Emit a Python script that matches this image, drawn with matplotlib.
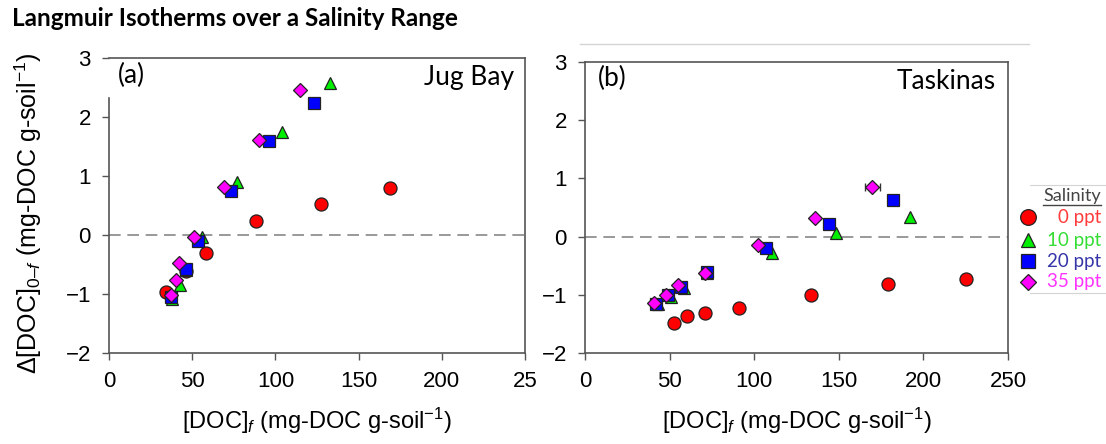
import matplotlib.pyplot as plt
from matplotlib.lines import Line2D

W, H = 1106, 444

# values, [DOC]_f (x) and delta[DOC] (y)
salinity = ["0 ppt", "10 ppt", "20 ppt", "35 ppt"]
colors = ["#ff0000", "#00ee00", "#0000ff", "#ff00ff"]
label_colors = ["#ff3b3b", "#33dd33", "#3535a8", "#ff33ff"]
markers = ["o", "^", "s", "D"]
marker_sizes = [9.4, 8.8, 8.0, 7.2]

jug_x = [
    [34.5, 46.1, 58.5, 88.2, 127.5, 168.8],
    [38.1, 42.5, 46.0, 55.7, 77.2, 103.9, 132.7],
    [37.5, 46.1, 53.5, 73.6, 96.0, 123.1],
    [37.1, 40.5, 42.1, 50.9, 69.0, 90.2, 114.9],
]
jug_y = [
    [-0.96, -0.61, -0.30, 0.23, 0.52, 0.80],
    [-1.08, -0.85, -0.60, -0.03, 0.90, 1.74, 2.58],
    [-1.05, -0.58, -0.11, 0.74, 1.60, 2.24],
    [-1.01, -0.76, -0.48, -0.04, 0.81, 1.61, 2.45],
]

tas_x = [
    [52.8, 60.0, 70.7, 91.3, 133.5, 178.9, 225.4],
    [43.3, 50.6, 58.5, 71.9, 110.6, 148.6, 191.9],
    [41.9, 48.8, 56.7, 71.9, 107.1, 144.3, 181.9],
    [40.7, 47.8, 54.9, 70.7, 102.0, 136.0, 169.7],
]
tas_y = [
    [-1.48, -1.37, -1.32, -1.22, -1.01, -0.81, -0.73],
    [-1.16, -1.04, -0.89, -0.62, -0.29, 0.07, 0.33],
    [-1.16, -1.01, -0.87, -0.61, -0.19, 0.21, 0.63],
    [-1.14, -1.00, -0.84, -0.63, -0.15, 0.32, 0.85],
]
tas_xerr_35 = [0, 0, 0, 0, 0, 0, 4.4]

x_ticks = [0, 50, 100, 150, 200, 250]
left_xticklabels = ["0", "50", "100", "150", "200", "25"]
right_xticklabels = ["0", "50", "100", "150", "200", "250"]
y_ticks = [-2, -1, 0, 1, 2, 3]

SPINE = "#555555"
TICK_FONT = "Liberation Sans"
SLIDE_FONT = "Lato"

plt.rcParams["mathtext.fontset"] = "custom"
plt.rcParams["mathtext.rm"] = TICK_FONT
plt.rcParams["mathtext.it"] = TICK_FONT + ":italic"
plt.rcParams["mathtext.default"] = "regular"


def px_box(x0, y0, x1, y1):
    return [x0 / W, (H - y1) / H, (x1 - x0) / W, (y1 - y0) / H]


def style_axes(ax, xticklabels):
    ax.set_xlim(0, 250)
    ax.set_ylim(-2, 3)
    ax.set_xticks(x_ticks)
    ax.set_xticklabels(xticklabels)
    ax.set_yticks(y_ticks)
    ax.set_yticklabels([str(t).replace("-", "\u2212") for t in y_ticks])
    ax.tick_params(direction="out", length=5, width=1, color=SPINE,
                   labelsize=16, pad=8)
    for lab in ax.get_xticklabels() + ax.get_yticklabels():
        lab.set_fontfamily(TICK_FONT)
    for sp in ax.spines.values():
        sp.set_color(SPINE)
        sp.set_linewidth(1.2)
    ax.axhline(0, color="#888888", lw=1.2, ls=(0, (7, 4)), zorder=1)
    ax.set_xlabel("[DOC]$_{\\mathit{f}}$ (mg-DOC g-soil$^{\u22121}$)",
                  fontsize=17, fontfamily=TICK_FONT, labelpad=10)


def draw_series(ax, xs, ys, xerr=None):
    for i in range(len(salinity)):
        ax.plot(xs[i], ys[i], ls="none", marker=markers[i],
                ms=marker_sizes[i], mfc=colors[i], mec="#222222", mew=0.9,
                zorder=3)
    if xerr is not None:
        ax.errorbar(xs[3], ys[3], xerr=xerr, fmt="none", ecolor="#333333",
                    elinewidth=1, capsize=3, zorder=2)


fig = plt.figure(figsize=(W / 100, H / 100), dpi=100)

ax1 = fig.add_axes(px_box(109, 58, 525, 353))
style_axes(ax1, left_xticklabels)
ax1.spines["left"].set_bounds(-2, 2.32)
draw_series(ax1, jug_x, jug_y)
ax1.text(0.022, 0.985, "(a)", transform=ax1.transAxes, ha="left", va="top",
         fontsize=19, fontfamily=SLIDE_FONT)
ax1.text(0.975, 0.975, "Jug Bay", transform=ax1.transAxes, ha="right",
         va="top", fontsize=19, fontfamily=SLIDE_FONT)

ax2 = fig.add_axes(px_box(585, 62, 1008, 353))
style_axes(ax2, right_xticklabels)
draw_series(ax2, tas_x, tas_y, xerr=tas_xerr_35)
ax2.text(0.03, 0.985, "(b)", transform=ax2.transAxes, ha="left", va="top",
         fontsize=19, fontfamily=SLIDE_FONT)
ax2.text(0.97, 0.975, "Taskinas", transform=ax2.transAxes, ha="right",
         va="top", fontsize=19, fontfamily=SLIDE_FONT)

# y label, its top squeezed under the slide title
fig.text(28 / W, (H - 374) / H,
         "$\\Delta$[DOC]$_{0\u2013\\mathit{f}}$ (mg-DOC g-soil$^{\u22121}$)",
         rotation=90, ha="center", va="bottom", fontsize=18,
         fontfamily=TICK_FONT)

fig.text(12 / W, (H - 19) / H, "Langmuir Isotherms over a Salinity Range",
         ha="left", va="center", fontsize=17.5, fontweight="bold",
         fontfamily=SLIDE_FONT)

# thin slide rules
fig.add_artist(Line2D([580 / W, 1029 / W], [(H - 44) / H] * 2,
                      color="#d4d4d4", lw=1))
fig.add_artist(Line2D([1030 / W, 1.0], [(H - 185) / H] * 2,
                      color="#d4d4d4", lw=0.8))
fig.add_artist(Line2D([1030 / W, 1.0], [(H - 293) / H] * 2,
                      color="#d4d4d4", lw=0.8))

# legend built by hand: right-aligned coloured labels
fig.text(1072 / W, (H - 196) / H, "Salinity", ha="center", va="center",
         fontsize=13, fontfamily=SLIDE_FONT, color="#444444")
fig.add_artist(Line2D([1043 / W, 1101 / W], [(H - 205) / H] * 2,
                      color="#444444", lw=1))
leg_y = [217, 240, 261, 282]
for i, name in enumerate(salinity):
    fig.add_artist(Line2D([1028 / W], [(H - leg_y[i]) / H], ls="none",
                          marker=markers[i], ms=marker_sizes[i] * 1.2,
                          mfc=colors[i], mec="#222222", mew=0.9))
    fig.text(1101 / W, (H - leg_y[i]) / H, name, ha="right", va="center",
             fontsize=13.5, fontfamily=SLIDE_FONT, color=label_colors[i])

fig.savefig("out.png", dpi=100)
